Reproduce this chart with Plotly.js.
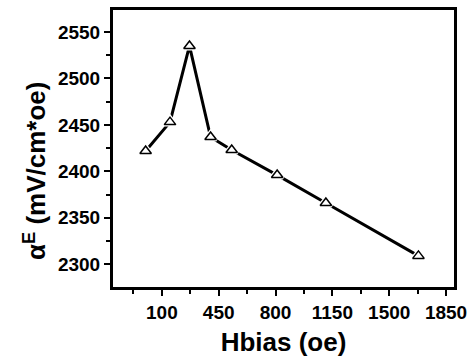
<!DOCTYPE html>
<html>
<head>
<meta charset="utf-8">
<script src="https://cdn.plot.ly/plotly-3.0.1.min.js"></script>
<style>html,body{margin:0;padding:0;background:#fff;}#chart{width:473px;height:358px;}</style>
</head>
<body>
<div id="chart"></div>
<script>
const hbias = [0, 150, 270, 400, 530, 810, 1110, 1680];
const alphaE = [2422, 2453, 2535, 2437, 2423, 2396, 2366, 2309];
const xTickVals = [100, 450, 800, 1150, 1500, 1850];
const yTickVals = [2300, 2350, 2400, 2450, 2500, 2550];
const xTitle = 'Hbias (oe)';
const yTitle = 'α<sup>E</sup> (mV/cm*oe)';

const fam = 'Arial, "Liberation Sans", sans-serif';
const traces = [
  {x: hbias, y: alphaE, mode: 'lines', line: {color: '#000', width: 3}, hoverinfo: 'skip'},
  {x: hbias, y: alphaE, mode: 'markers', marker: {symbol: 'triangle-up', size: 10, color: '#fff', line: {color: '#fff', width: 4}}, hoverinfo: 'skip'},
  {x: hbias, y: alphaE, mode: 'markers', marker: {symbol: 'triangle-up', size: 10, color: '#fff', line: {color: '#000', width: 1.5}}}
];
const layout = {
  width: 473, height: 358,
  margin: {l: 113, r: 19, t: 10, b: 71},
  paper_bgcolor: '#fff', plot_bgcolor: '#fff',
  showlegend: false,
  font: {family: fam, color: '#000', size: 19, weight: 'bold'},
  xaxis: {
    range: [-201, 1899], tickmode: 'array', tickvals: xTickVals,
    ticks: 'outside', ticklen: 6, tickwidth: 2, tickcolor: '#000',
    minor: {dtick: 175, tick0: 100, ticks: 'outside', ticklen: 4, tickwidth: 2, tickcolor: '#000'},
    showline: true, linewidth: 3, linecolor: '#000', mirror: true,
    showgrid: false, zeroline: false,
    tickfont: {family: fam, size: 19, weight: 'bold'},
    title: {text: xTitle, font: {family: fam, size: 26, weight: 'bold'}, standoff: 12}
  },
  yaxis: {
    range: [2275.5, 2573.7], tickmode: 'array', tickvals: yTickVals,
    ticks: 'outside', ticklen: 6, tickwidth: 2, tickcolor: '#000',
    minor: {dtick: 25, tick0: 2300, ticks: 'outside', ticklen: 4, tickwidth: 2, tickcolor: '#000'},
    showline: true, linewidth: 3, linecolor: '#000', mirror: true,
    showgrid: false, zeroline: false,
    tickfont: {family: fam, size: 19, weight: 'bold'}
  },
  annotations: [{
    text: yTitle, xref: 'paper', yref: 'paper', x: -0.228, y: 0.42,
    xanchor: 'center', yanchor: 'middle', textangle: -90, showarrow: false,
    font: {family: fam, size: 26, weight: 'bold', color: '#000'}
  }]
};
Plotly.newPlot('chart', traces, layout, {displayModeBar: false, staticPlot: true});
</script>
</body>
</html>
